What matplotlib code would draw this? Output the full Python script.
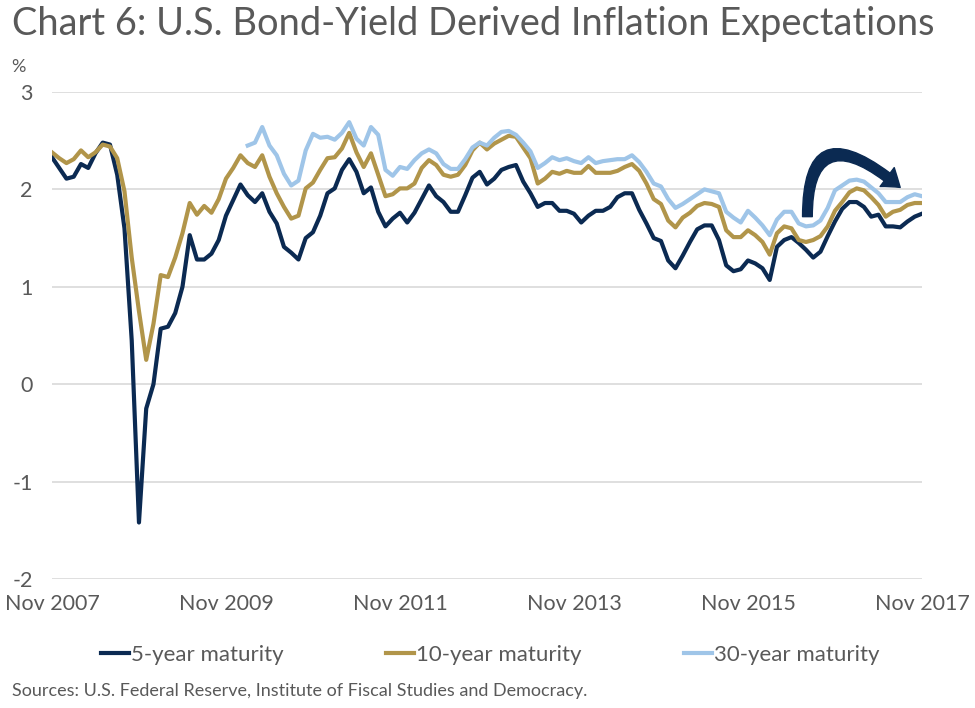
import numpy as np
import matplotlib
matplotlib.use("Agg")
import matplotlib.pyplot as plt
from matplotlib.patches import FancyArrowPatch

# monthly series, Nov 2007 - Nov 2017 (%)
five_year = [2.33, 2.22, 2.11, 2.13, 2.26, 2.22, 2.37, 2.48, 2.46, 2.15,
             1.6, 0.45, -1.42, -0.25, 0.0, 0.57, 0.59, 0.73, 1.0, 1.53,
             1.28, 1.28, 1.34, 1.48, 1.73, 1.89, 2.05, 1.94, 1.87, 1.96,
             1.77, 1.65, 1.41, 1.35, 1.28, 1.5, 1.56, 1.73, 1.96, 2.01,
             2.2, 2.31, 2.18, 1.96, 2.02, 1.77, 1.62, 1.7, 1.76, 1.66,
             1.76, 1.9, 2.04, 1.93, 1.87, 1.77, 1.77, 1.94, 2.12, 2.18,
             2.05, 2.11, 2.2, 2.23, 2.25, 2.08, 1.96, 1.82, 1.86, 1.86,
             1.78, 1.78, 1.75, 1.66, 1.73, 1.78, 1.78, 1.82, 1.92, 1.96,
             1.96, 1.79, 1.65, 1.5, 1.47, 1.27, 1.19, 1.32, 1.46, 1.59,
             1.63, 1.63, 1.48, 1.22, 1.16, 1.18, 1.27, 1.24, 1.19, 1.07,
             1.41, 1.48, 1.51, 1.45, 1.38, 1.3, 1.36, 1.52, 1.67, 1.8,
             1.87, 1.87, 1.82, 1.72, 1.74, 1.62, 1.62, 1.61, 1.67, 1.72,
             1.75]
ten_year = [2.38, 2.32, 2.27, 2.31, 2.4, 2.33, 2.38, 2.46, 2.44, 2.32,
            1.98, 1.3, 0.75, 0.25, 0.62, 1.12, 1.1, 1.3, 1.55, 1.86,
            1.74, 1.83, 1.76, 1.9, 2.11, 2.22, 2.35, 2.27, 2.23, 2.35,
            2.13, 1.96, 1.82, 1.7, 1.73, 2.01, 2.07, 2.2, 2.32, 2.33,
            2.42, 2.58, 2.38, 2.23, 2.37, 2.15, 1.93, 1.95, 2.01, 2.01,
            2.06, 2.22, 2.3, 2.25, 2.15, 2.13, 2.15, 2.25, 2.4, 2.48,
            2.41, 2.47, 2.51, 2.55, 2.54, 2.43, 2.32, 2.06, 2.11, 2.18,
            2.16, 2.19, 2.17, 2.17, 2.24, 2.17, 2.17, 2.17, 2.19, 2.23,
            2.26, 2.19, 2.06, 1.9, 1.85, 1.68, 1.61, 1.71, 1.76, 1.83,
            1.86, 1.85, 1.82, 1.58, 1.51, 1.51, 1.58, 1.53, 1.46, 1.33,
            1.55, 1.62, 1.6, 1.48, 1.46, 1.48, 1.52, 1.62, 1.78, 1.87,
            1.97, 2.01, 1.99, 1.92, 1.84, 1.72, 1.77, 1.79, 1.84, 1.86,
            1.86]
# 30-year series only starts in early 2010
thirty_year = [np.nan] * 27 + [
    2.45, 2.48, 2.64, 2.45, 2.35, 2.16, 2.04, 2.09, 2.4, 2.57,
    2.53, 2.54, 2.51, 2.58, 2.69, 2.52, 2.45, 2.64, 2.56, 2.2,
    2.14, 2.23, 2.21, 2.3, 2.37, 2.41, 2.37, 2.26, 2.21, 2.21,
    2.31, 2.43, 2.48, 2.45, 2.53, 2.59, 2.6, 2.56, 2.48, 2.39,
    2.22, 2.27, 2.33, 2.3, 2.32, 2.29, 2.27, 2.33, 2.27, 2.29,
    2.3, 2.31, 2.31, 2.35, 2.28, 2.18, 2.06, 2.03, 1.9, 1.81,
    1.85, 1.9, 1.95, 2.0, 1.98, 1.96, 1.77, 1.71, 1.66, 1.78,
    1.71, 1.63, 1.53, 1.69, 1.77, 1.77, 1.65, 1.62, 1.63, 1.68,
    1.81, 1.99, 2.04, 2.09, 2.1, 2.08, 2.02, 1.96, 1.87, 1.87,
    1.87, 1.92, 1.95, 1.93]

tick_labels = ["Nov 2007", "Nov 2009", "Nov 2011", "Nov 2013", "Nov 2015", "Nov 2017"]
series_names = ["5-year maturity", "10-year maturity", "30-year maturity"]
colors = ["#0b2a52", "#b1954a", "#9fc5e8"]

plt.rcParams['font.family'] = ['Lato', 'DejaVu Sans']
grey = "#595959"

months = np.arange(len(five_year))

fig = plt.figure(figsize=(9.75, 7.08), dpi=100)
ax = fig.add_axes([0.0533, 0.1822, 0.8923, 0.6879])

for vals, name, c in zip([five_year, ten_year, thirty_year], series_names, colors):
    ax.plot(months, vals, color=c, lw=3.0, label=name, solid_joinstyle='round')

ax.set_xlim(0, 120)
ax.set_ylim(-2, 3)
ax.set_yticks([-2, -1, 0, 1, 2, 3])
ax.set_yticklabels(["-2", "-1", "0", "1", "2", "3"])
ax.set_xticks(np.arange(0, 121, 24))
ax.set_xticklabels(tick_labels)
ax.grid(axis='y', color="#d9d9d9", lw=1.2)
ax.set_axisbelow(True)
for s in ax.spines.values():
    s.set_visible(False)
ax.tick_params(length=0, labelsize=15.5, colors=grey)
ax.tick_params(axis='y', pad=14)
ax.tick_params(axis='x', pad=11)

# curved arrow pointing at the recent dip
arr = FancyArrowPatch((104.2, 1.72), (117.0, 2.02),
                      connectionstyle="angle3,angleA=90,angleB=-40",
                      arrowstyle="simple,head_length=12,head_width=17,tail_width=7",
                      color="#0b2a52", mutation_scale=1, shrinkA=0, shrinkB=0)
ax.add_patch(arr)

fig.text(0.012, 0.966, "Chart 6: U.S. Bond-Yield Derived Inflation Expectations",
         fontsize=27.4, color=grey, va='center', ha='left')
fig.text(0.012, 0.905, "%", fontsize=13, color=grey, va='center')

fig.legend(loc='center', bbox_to_anchor=(0.503, 0.075), ncol=3, frameon=False,
           fontsize=16, labelcolor=grey, handlelength=1.25, handletextpad=0.1,
           columnspacing=4.6)

fig.text(0.012, 0.024, "Sources: U.S. Federal Reserve, Institute of Fiscal Studies and Democracy.",
         fontsize=13, color=grey, va='center')

fig.savefig("out.png", dpi=100)
